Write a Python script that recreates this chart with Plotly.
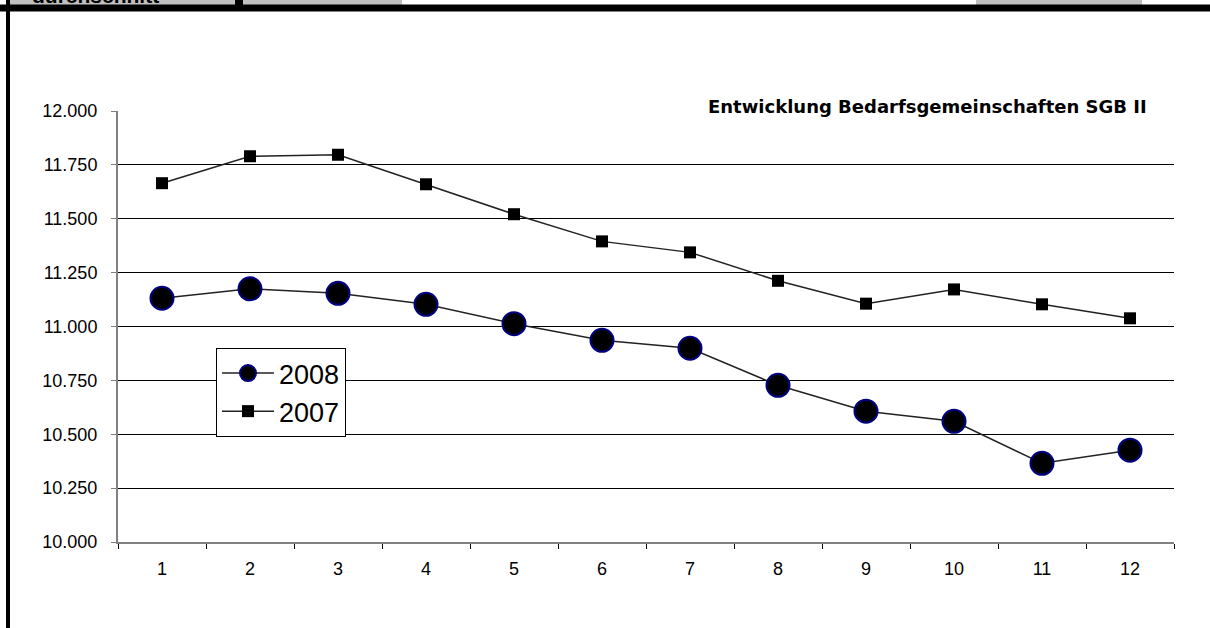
import plotly.graph_objects as go

# Monatswerte (1 = Januar ... 12 = Dezember)
months = ["1", "2", "3", "4", "5", "6", "7", "8", "9", "10", "11", "12"]
bg_2008 = [11131, 11175, 11154, 11103, 11013, 10936, 10899, 10727, 10607, 10560, 10365, 10426]
bg_2007 = [11665, 11790, 11797, 11660, 11521, 11395, 11344, 11212, 11106, 11172, 11103, 11038]
y_ticks = [10000, 10250, 10500, 10750, 11000, 11250, 11500, 11750, 12000]
y_tick_text = ["10.000", "10.250", "10.500", "10.750", "11.000", "11.250", "11.500", "11.750", "12.000"]
grid_vals = y_ticks[1:-1]

W, H = 1210, 628
ML, MR, MT, MB = 118, 36, 111, 86
PW, PH = W - ML - MR, H - MT - MB


def px(x):
    return (x - ML) / PW


def py(y):
    return (H - MB - y) / PH


fig = go.Figure()
fig.add_trace(go.Scatter(
    x=months, y=bg_2008, name="2008", mode="lines+markers",
    line=dict(color="#222222", width=1.5),
    marker=dict(symbol="circle", size=23, color="black",
                line=dict(color="#000080", width=2)),
))
fig.add_trace(go.Scatter(
    x=months, y=bg_2007, name="2007", mode="lines+markers",
    line=dict(color="#222222", width=1.5),
    marker=dict(symbol="square", size=12, color="black", line=dict(width=0)),
))

# Kopfzeile des Berichtsblatts
shapes = [
    dict(type="rect", xref="paper", yref="paper", x0=px(10), x1=px(235), y0=py(5), y1=py(-2),
         fillcolor="#c0c0c0", line=dict(width=0), layer="above"),
    dict(type="rect", xref="paper", yref="paper", x0=px(235), x1=px(243), y0=py(5), y1=py(-2),
         fillcolor="black", line=dict(width=0), layer="above"),
    dict(type="rect", xref="paper", yref="paper", x0=px(243), x1=px(402), y0=py(5), y1=py(-2),
         fillcolor="#c0c0c0", line=dict(width=0), layer="above"),
    dict(type="rect", xref="paper", yref="paper", x0=px(976), x1=px(1142), y0=py(5), y1=py(-2),
         fillcolor="#c0c0c0", line=dict(width=0), layer="above"),
    dict(type="rect", xref="paper", yref="paper", x0=px(-2), x1=px(1212), y0=py(11.5), y1=py(4.5),
         fillcolor="black", line=dict(width=0), layer="above"),
    dict(type="rect", xref="paper", yref="paper", x0=px(6), x1=px(10), y0=py(630), y1=py(-2),
         fillcolor="black", line=dict(width=0), layer="above"),
]

annotations = [
    dict(text="<b>durchschnitt</b>", xref="paper", yref="paper", x=px(30), y=py(-4),
         xanchor="left", yanchor="middle", showarrow=False,
         font=dict(family="Liberation Sans, Arial", size=21, color="black")),
    dict(text="<b>Entwicklung Bedarfsgemeinschaften SGB II</b>", xref="paper", yref="paper",
         x=px(1149), y=py(107), xanchor="right", yanchor="middle", showarrow=False,
         font=dict(family="DejaVu Sans", size=18, color="black")),
]

fig.update_layout(
    width=W, height=H,
    margin=dict(l=ML, r=MR, t=MT, b=MB),
    paper_bgcolor="white", plot_bgcolor="white",
    showlegend=True,
    legend=dict(x=px(216), y=py(348), xanchor="left", yanchor="top",
                bgcolor="white", bordercolor="black", borderwidth=1,
                font=dict(family="Liberation Sans, Arial", size=27, color="black"),
                itemwidth=52, tracegroupgap=0),
    shapes=shapes,
    annotations=annotations,
    xaxis=dict(
        type="category", range=[-0.5, 11.5], tickson="boundaries",
        ticks="outside", ticklen=5, tickcolor="black", tickwidth=1,
        showline=True, linecolor="#808080", linewidth=2,
        showgrid=False, zeroline=False,
        tickfont=dict(family="Liberation Sans, Arial", size=18, color="black"),
        ticklabelstandoff=9,
    ),
    yaxis=dict(
        range=[10000, 12000], tickmode="array", tickvals=y_ticks, ticktext=y_tick_text,
        ticks="outside", ticklen=5, tickcolor="#808080", tickwidth=1,
        showline=True, linecolor="#808080", linewidth=2,
        showgrid=False, zeroline=False,
        minor=dict(tickmode="array", tickvals=grid_vals, showgrid=True,
                   gridcolor="black", gridwidth=1, ticks=""),
        tickfont=dict(family="Liberation Sans, Arial", size=18, color="black"),
        ticklabelstandoff=10,
    ),
)

fig.write_html("out.html")
